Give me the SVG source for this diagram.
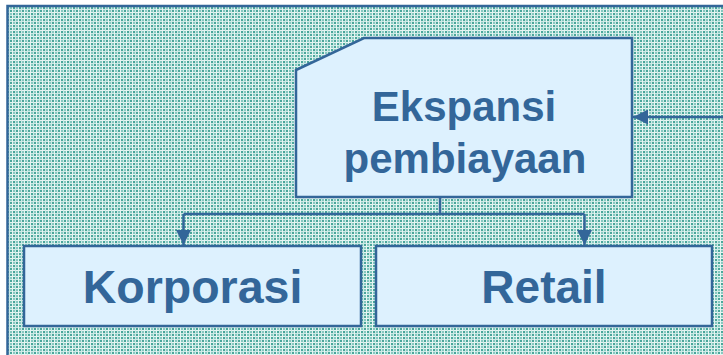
<svg xmlns="http://www.w3.org/2000/svg" width="723" height="355" viewBox="0 0 723 355">
<style>
.box{fill:#ddf1fe;stroke:#336699;stroke-width:2.5}
.lbl{font-family:"Liberation Sans",Arial,sans-serif;font-weight:bold;fill:#336699;text-anchor:middle}
.con{fill:none;stroke:#336699;stroke-width:2.5}
</style>
<defs>
<pattern id="bg" width="6" height="6" patternUnits="userSpaceOnUse">
<rect width="6" height="6" fill="#86c8c0"/>
<rect x="0" y="0" width="6" height="1" fill="#e6f5f2"/>
<rect x="0" y="3" width="6" height="1" fill="#cdeae6"/>
<rect x="0" y="0" width="1" height="6" fill="#e6f5f2"/>
<rect x="3" y="0" width="1" height="6" fill="#cdeae6"/>
<rect x="1" y="1" width="2" height="2" fill="#4aa69a"/>
<rect x="4" y="4" width="2" height="2" fill="#4aa69a"/>
</pattern>
<marker id="ah" viewBox="0 0 15 15" refX="15" refY="7.5" markerWidth="15" markerHeight="15" markerUnits="userSpaceOnUse" orient="auto">
<path d="M0,0 L15,7.5 L0,15 z" fill="#336699"/>
</marker>
</defs>
<rect width="723" height="355" fill="#ffffff"/>
<rect x="7.5" y="6" width="730" height="360" fill="url(#bg)" stroke="#336699" stroke-width="2.5"/>
<g id="connectors">
<path class="con" d="M440,197 V214 M183.5,214 H584.5"/>
<path class="con" d="M183.5,214 V245" marker-end="url(#ah)"/>
<path class="con" d="M584.5,214 V245" marker-end="url(#ah)"/>
<path class="con" d="M723,117 H633" marker-end="url(#ah)"/>
</g>
<g id="node-ekspansi">
<path class="box" d="M296,70 L364,38 H632 V197 H296 Z"/>
<text class="lbl" x="464" y="121" font-size="42">Ekspansi</text>
<text class="lbl" x="465" y="173" font-size="42">pembiayaan</text>
</g>
<g id="node-korporasi">
<rect class="box" x="24" y="246" width="337" height="80"/>
<text class="lbl" x="192.5" y="303" font-size="46.5">Korporasi</text>
</g>
<g id="node-retail">
<rect class="box" x="376" y="246" width="336" height="80"/>
<text class="lbl" x="544" y="303" font-size="46">Retail</text>
</g>
</svg>
